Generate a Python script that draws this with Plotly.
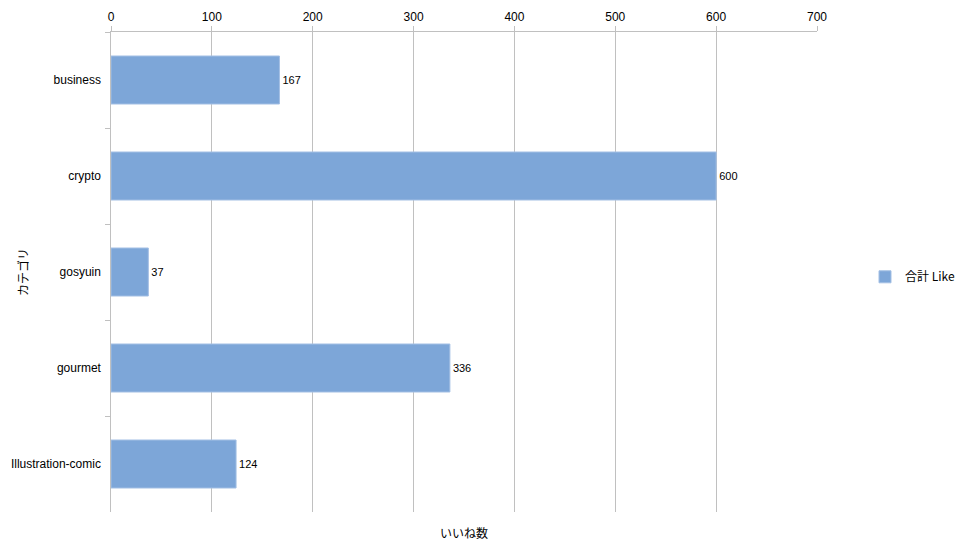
import plotly.graph_objects as go

categories = ["business", "crypto", "gosyuin", "gourmet", "Illustration-comic"]
likes = [167, 600, 37, 336, 124]
series_name = "合計 Like"
x_title = "いいね数"
y_title = "カテゴリ"

font_main = "Liberation Sans, Arial, Noto Sans CJK JP, sans-serif"
font_jp = "Noto Sans CJK JP, Liberation Sans, sans-serif"

fig = go.Figure()
fig.add_trace(go.Bar(
    y=categories, x=likes, orientation="h", name=series_name,
    width=0.5,
    marker=dict(color="#7DA6D8", line=dict(color="#A3BFE4", width=1)),
    text=[str(v) for v in likes], textposition="outside",
    textfont=dict(size=11, color="#000000", family=font_main),
    cliponaxis=False, showlegend=True,
))

fig.update_layout(
    width=967, height=550,
    margin=dict(l=111, r=150, t=32, b=38, autoexpand=False),
    paper_bgcolor="white", plot_bgcolor="white",
    font=dict(family=font_main, size=12, color="#000000"),
    showlegend=True,
    legend=dict(x=1.068, y=0.49, xanchor="left", yanchor="middle",
                font=dict(family=font_jp, size=12, color="#000000"),
                bgcolor="rgba(0,0,0,0)", itemwidth=30),
    xaxis=dict(side="top", range=[0, 700], dtick=100, tick0=0,
               showgrid=True, gridcolor="#C0C0C0", gridwidth=1,
               showline=True, linecolor="#C0C0C0", linewidth=1,
               ticks="outside", ticklen=5, tickcolor="#C0C0C0",
               zeroline=False, automargin=False,
               tickfont=dict(size=12, family=font_main)),
    yaxis=dict(autorange="reversed", type="category",
               showline=True, linecolor="#C0C0C0", linewidth=1,
               ticks="outside", ticklen=5, tickcolor="#C0C0C0",
               tickson="boundaries", showgrid=False, zeroline=False,
               automargin=False,
               tickfont=dict(size=12, family=font_main), ticksuffix="  "),
    annotations=[
        dict(text=x_title, xref="paper", yref="paper", x=0.5, y=-0.042,
             xanchor="center", yanchor="middle", showarrow=False,
             font=dict(family=font_jp, size=12, color="#000000")),
        dict(text=y_title, xref="paper", yref="paper", x=-0.126, y=0.5,
             xanchor="center", yanchor="middle", showarrow=False, textangle=-90,
             font=dict(family=font_jp, size=12, color="#000000")),
    ],
)

fig.write_html("out.html",
               config={"displayModeBar": False},
               post_script="document.body.style.margin='0';document.body.style.overflow='hidden';")
